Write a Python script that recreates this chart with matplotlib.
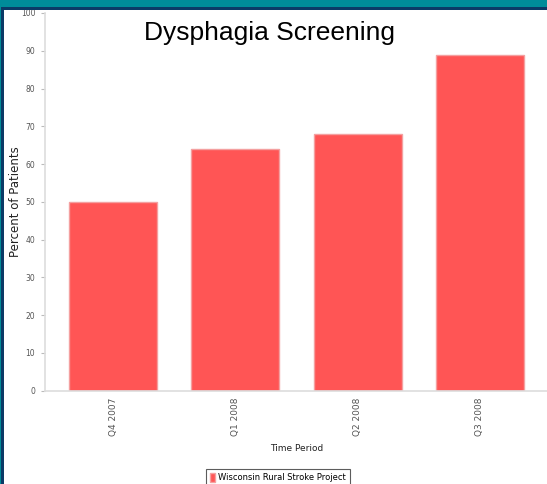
import matplotlib
matplotlib.use("Agg")
import matplotlib.pyplot as plt
from matplotlib.patches import Rectangle

# Values
periods = ["Q4 2007", "Q1 2008", "Q2 2008", "Q3 2008"]
percent_patients = [50, 64, 68, 89]
series_name = "Wisconsin Rural Stroke Project"

BAR_COLOR = "#FF5555"
TEAL = "#008C99"
NAVY = "#0B3A66"
GRAY_TEXT = "#555555"

fig = plt.figure(figsize=(5.47, 4.84), dpi=100)
fig.patch.set_facecolor("white")

# frame strips of the slide around the chart
fig.add_artist(Rectangle((0, 1 - 7 / 484), 1, 7 / 484, transform=fig.transFigure,
                         facecolor=TEAL, edgecolor="none", zorder=10))
fig.add_artist(Rectangle((0, 1 - 10 / 484), 1, 3 / 484, transform=fig.transFigure,
                         facecolor=NAVY, edgecolor="none", zorder=10))
fig.add_artist(Rectangle((0, 0), 1 / 547, 1, transform=fig.transFigure,
                         facecolor=TEAL, edgecolor="none", zorder=10))
fig.add_artist(Rectangle((1 / 547, 0), 3 / 547, 1 - 7 / 484, transform=fig.transFigure,
                         facecolor=NAVY, edgecolor="none", zorder=10))

ax = fig.add_axes([45 / 547, 1 - 390.7 / 484, 503 / 547, 377.7 / 484])
x = range(len(periods))
ax.bar(x, percent_patients, width=0.72, color=BAR_COLOR,
       edgecolor="#F4A0A0", linewidth=1.0, label=series_name, zorder=2)

ax.set_xlim(-0.556, 3.556)
ax.set_ylim(0, 100)
ax.set_yticks(range(0, 101, 10))
ax.set_xticks(list(x))
ax.set_xticklabels(periods, rotation=90, fontsize=6.5, color=GRAY_TEXT)
ax.tick_params(axis="y", labelsize=5.5, labelcolor=GRAY_TEXT, length=3,
               color="#BBBBBB", width=0.8, pad=4)
ax.tick_params(axis="x", length=0, pad=5)

for side in ["top", "right"]:
    ax.spines[side].set_visible(False)
for side in ["left", "bottom"]:
    ax.spines[side].set_color("#DDDDDD")
    ax.spines[side].set_linewidth(1.2)

ax.set_ylabel("Percent of Patients", fontsize=8.5, color="#222222")
ax.yaxis.set_label_coords(-0.045, 0.5)
ax.set_xlabel("Time Period", fontsize=6.5, color="#222222", labelpad=6)

fig.text(0.493, 1 - 33 / 484, "Dysphagia Screening", ha="center", va="center",
         fontsize=19, family="Liberation Sans", color="black")

leg = fig.legend(loc="upper center", bbox_to_anchor=(278 / 547, 1 - 465 / 484),
                 fontsize=6, frameon=True, fancybox=False, handlelength=0.6,
                 handleheight=1.2, borderpad=0.5, handletextpad=0.4)
leg.get_frame().set_edgecolor("#333333")
leg.get_frame().set_linewidth(0.8)

fig.savefig("out.png", dpi=100)
